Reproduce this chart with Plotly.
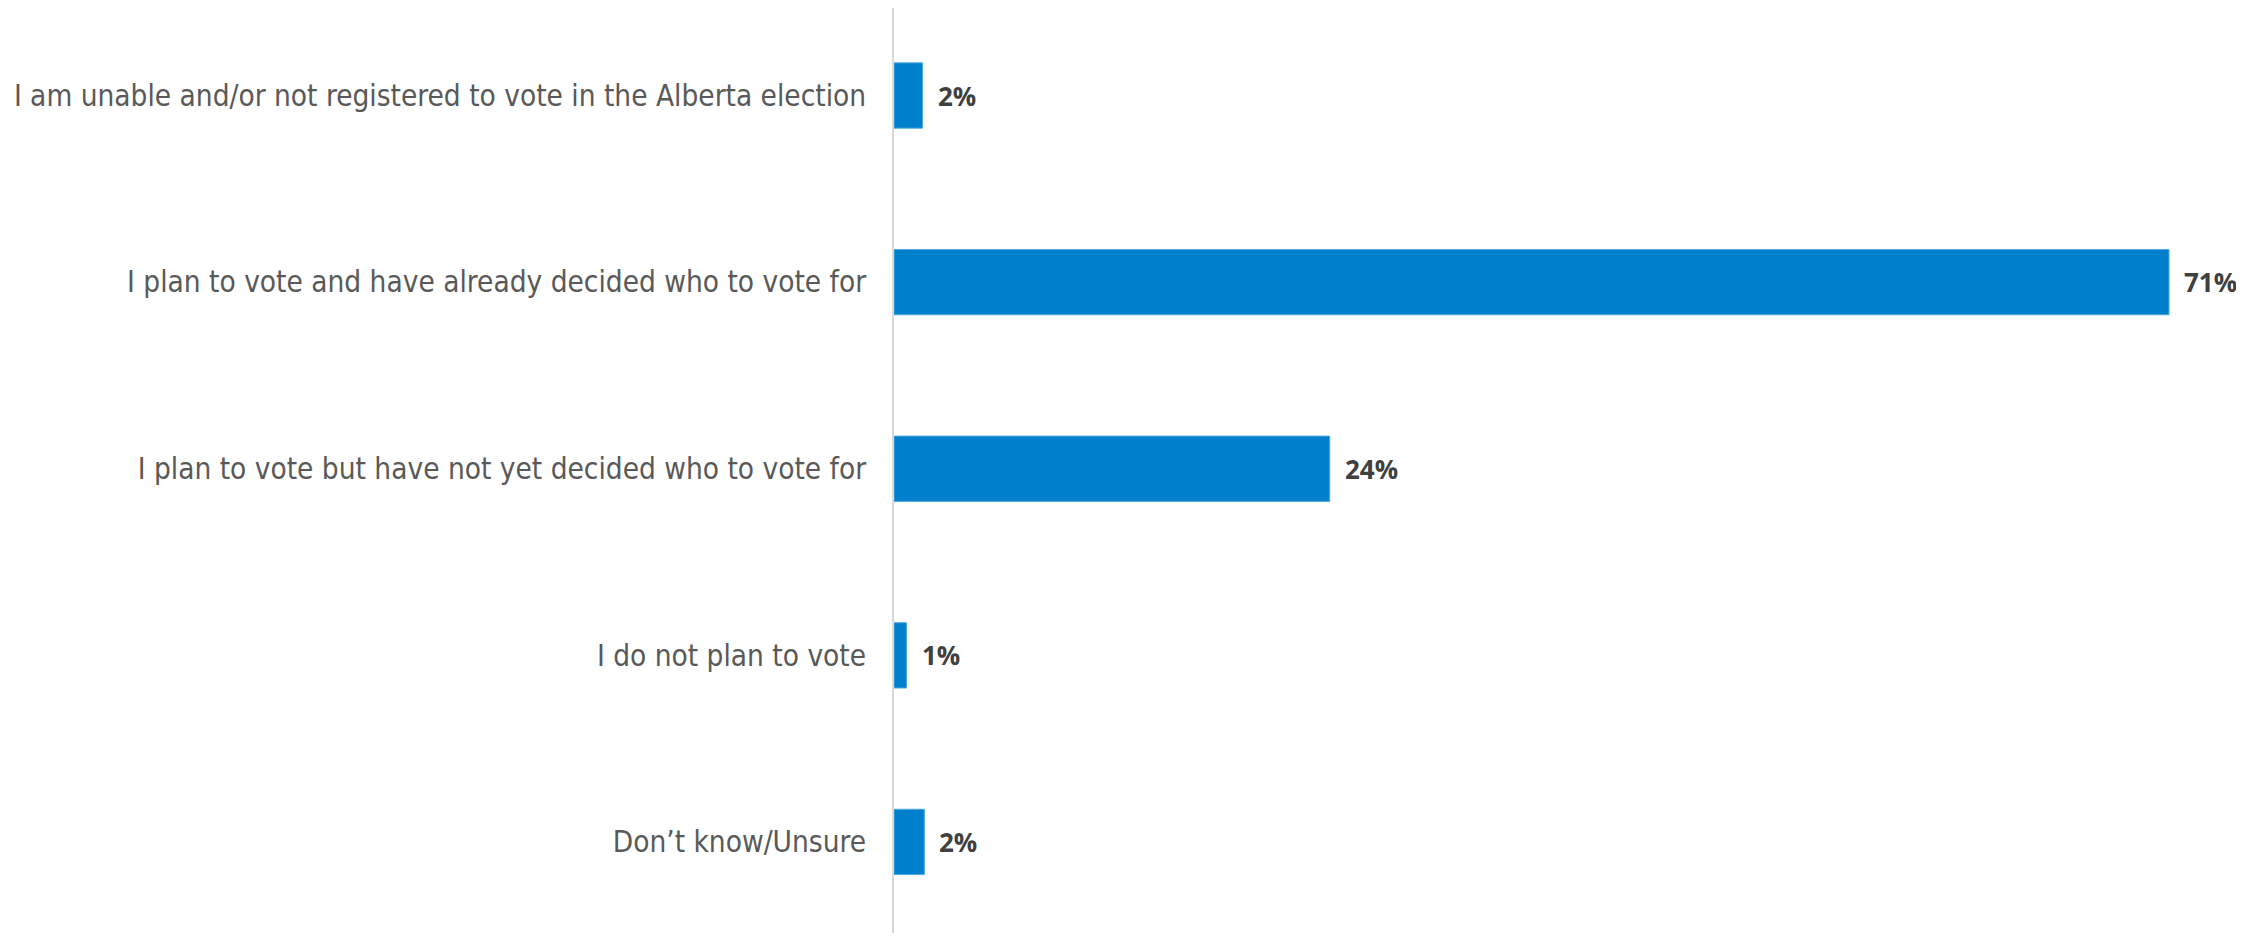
import plotly.graph_objects as go

categories = [
    "I am unable and/or not registered to vote in the Alberta election",
    "I plan to vote and have already decided who to vote for",
    "I plan to vote but have not yet decided who to vote for",
    "I do not plan to vote",
    "Don\u2019t know/Unsure",
]
values = [1.6, 71.4, 24.4, 0.7, 1.7]
value_labels = ["2%", "71%", "24%", "1%", "2%"]

fig = go.Figure()
fig.add_trace(go.Bar(
    x=values,
    y=categories,
    orientation="h",
    marker=dict(color="#0080CC", line=dict(color="#4FA8E0", width=1)),
    hoverinfo="skip",
))

for v, lab, cat in zip(values, value_labels, categories):
    fig.add_annotation(
        x=v, y=cat, xref="x", yref="y",
        text=lab, showarrow=False,
        xanchor="left", yanchor="middle",
        xshift=13,
        font=dict(family="Open Sans, Liberation Sans, sans-serif", size=26, color="#404040", weight="bold"),
    )

fig.update_layout(
    width=2236, height=925,
    margin=dict(l=886, r=0, t=0, b=0),
    paper_bgcolor="white", plot_bgcolor="white",
    showlegend=False,
    bargap=0.65,
    xaxis=dict(visible=False, range=[0, 75.6], fixedrange=True),
    yaxis=dict(
        range=[4.488, -0.469],
        showline=True, linecolor="#D9D9D9", linewidth=2,
        showgrid=False, zeroline=False, ticks="",
        ticklabelstandoff=20,
        tickfont=dict(family="DejaVu Sans Condensed, DejaVu Sans, sans-serif", size=29.5, color="#595959"),
        automargin=False,
    ),
)

fig.write_html("out.html")
